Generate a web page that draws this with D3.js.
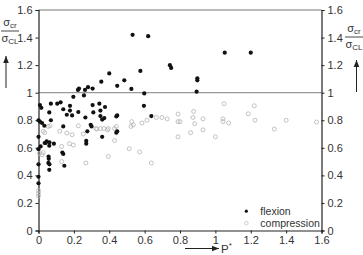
<!DOCTYPE html>
<html>
<head>
<meta charset="utf-8">
<script src="https://cdn.jsdelivr.net/npm/d3@7"></script>
<style>
  body { margin: 0; background: #fff; }
  text { font-family: 'Liberation Sans', Arial, sans-serif; fill: #333; }
</style>
</head>
<body>
<div id="chart"></div>
<script>
// P* vs sigma_cr / sigma_CL
const flexion = [
  [0.40, 1.14], [0.355, 1.08], [0.485, 1.09], [0.445, 1.05], [0.28, 1.04], [0.306, 1.03],
  [0.229, 1.03], [0.223, 1.02], [0.263, 1.02], [0.197, 0.97], [0.257, 0.98], [0.008, 0.91],
  [0.016, 0.89], [0.07, 0.92], [0.106, 0.92], [0.125, 0.93], [0.14, 0.88], [0.178, 0.905],
  [0.178, 0.87], [0.16, 0.84], [0.19, 0.835], [0.225, 0.86], [0.061, 0.857], [0.265, 0.82],
  [0.306, 0.91], [0.344, 0.92], [0.376, 0.896], [0.31, 0.857], [0.35, 0.87], [0.35, 0.83],
  [0.372, 0.816], [0.36, 0.805], [0.445, 0.835], [0.44, 0.828], [0.0, 0.80], [0.008, 0.79],
  [0.02, 0.78], [0.14, 0.755], [0.295, 0.767], [0.30, 0.755],
  [0.532, 1.42], [0.62, 1.41], [0.576, 1.158], [0.525, 1.027], [0.598, 0.995], [0.596, 0.905],
  [0.638, 0.83], [0.743, 1.20], [0.75, 1.18], [0.898, 1.104], [0.898, 1.09], [0.894, 1.007],
  [1.053, 1.29], [1.2, 1.29],
  [0.033, 0.76], [0.07, 0.80], [0.0, 0.68], [0.046, 0.646], [0.04, 0.635], [0.062, 0.64],
  [0.035, 0.635], [0.087, 0.63], [0.061, 0.615], [0.012, 0.61], [0.057, 0.537], [0.058, 0.52],
  [0.056, 0.49], [0.062, 0.48], [0.061, 0.44], [0.0, 0.48], [0.0, 0.39], [0.0, 0.343],
  [0.0, 0.59], [0.135, 0.566], [0.14, 0.555], [0.146, 0.47], [0.27, 0.65], [0.27, 0.63],
  [0.276, 0.72], [0.36, 0.68], [0.44, 0.71], [0.445, 0.72]
]

const compression = [
  [0.585, 0.78], [0.613, 0.80], [0.666, 0.82], [0.698, 0.82], [0.728, 0.81], [0.789, 0.845],
  [0.789, 0.79], [0.80, 0.79], [0.877, 0.864], [0.873, 0.82], [0.883, 0.775], [0.93, 0.81],
  [0.93, 0.73], [0.86, 0.71], [0.789, 0.68], [1.0, 0.68], [1.049, 0.92], [1.043, 0.81],
  [1.043, 0.79], [1.075, 0.78], [0.572, 0.57], [0.638, 0.49], [1.22, 0.905], [1.186, 0.847],
  [1.224, 0.80], [1.40, 0.80], [1.333, 0.736], [1.572, 0.787], [0.527, 0.79], [0.536, 0.767],
  [0.513, 0.593], [0.523, 0.755], [0.44, 0.755], [0.395, 0.74], [0.325, 0.74], [0.35, 0.74],
  [0.37, 0.74], [0.055, 0.755], [0.027, 0.72], [0.035, 0.71], [0.005, 0.56], [0.027, 0.566],
  [0.02, 0.55], [0.12, 0.72], [0.16, 0.707], [0.19, 0.695], [0.175, 0.63], [0.197, 0.62],
  [0.131, 0.61], [0.131, 0.50], [0.225, 0.76], [0.253, 0.70], [0.268, 0.49], [0.33, 0.736],
  [0.39, 0.73], [0.43, 0.74], [0.395, 0.537], [0.43, 0.653], [0.0, 0.25], [0.0, 0.29],
  [0.065, 0.76], [0.0, 0.27]
]

const xTicks = [0, 0.2, 0.4, 0.6, 0.8, 1, 1.2, 1.4, 1.6]
const yTicks = [0, 0.2, 0.4, 0.6, 0.8, 1, 1.2, 1.4, 1.6]
const legendLabels = ['flexion', 'compression']

const W = 363, H = 255
const margin = { top: 10, right: 41.5, bottom: 24.5, left: 38.5 }
const width = W - margin.left - margin.right
const height = H - margin.top - margin.bottom

const svg = d3.select('#chart').append('svg')
  .attr('width', W)
  .attr('height', H)

svg.append('defs').append('marker')
  .attr('id', 'arr')
  .attr('viewBox', '0 0 10 10')
  .attr('refX', 10).attr('refY', 5)
  .attr('markerWidth', 7).attr('markerHeight', 7)
  .attr('markerUnits', 'userSpaceOnUse')
  .attr('orient', 'auto')
  .append('path')
  .attr('d', 'M0,1 L10,5 L0,9 Z')
  .attr('fill', '#222')

const g = svg.append('g')
  .attr('transform', `translate(${margin.left},${margin.top})`)

const x = d3.scaleLinear().domain([0, 1.6]).range([0, width])
const y = d3.scaleLinear().domain([0, 1.6]).range([height, 0])

const fmt = d => (d === 0 || d === 1) ? d3.format('d')(d) : d3.format('.1f')(d)

function styleAxis (sel) {
  sel.select('.domain').attr('stroke', '#222').attr('stroke-width', 1.2)
  sel.selectAll('.tick line').attr('stroke', '#222')
  sel.selectAll('.tick text')
    .style('font-size', '11px')
    .style('font-family', "'Liberation Sans', Arial, sans-serif")
    .attr('fill', '#333')
}

// top border and reference line at 1
g.append('line')
  .attr('x1', 0).attr('x2', width)
  .attr('y1', y(1.6)).attr('y2', y(1.6))
  .attr('stroke', '#777').attr('stroke-width', 1.2)

g.append('line')
  .attr('x1', 0).attr('x2', width)
  .attr('y1', y(1)).attr('y2', y(1))
  .attr('stroke', '#999').attr('stroke-width', 1.2)

g.append('g')
  .attr('transform', `translate(0,${height})`)
  .call(d3.axisBottom(x).tickValues(xTicks).tickFormat(fmt).tickSizeOuter(0).tickSize(3).tickPadding(3))
  .call(styleAxis)

g.append('g')
  .call(d3.axisLeft(y).tickValues(yTicks).tickFormat(fmt).tickSizeOuter(0).tickSize(3).tickPadding(3))
  .call(styleAxis)

g.append('g')
  .attr('transform', `translate(${width},0)`)
  .call(d3.axisRight(y).tickValues(yTicks).tickFormat(fmt).tickSizeOuter(0).tickSize(3).tickPadding(3))
  .call(styleAxis)

// compression points (open grey circles)
g.append('g').selectAll('circle')
  .data(compression)
  .enter().append('circle')
  .attr('cx', d => x(d[0]))
  .attr('cy', d => y(d[1]))
  .attr('r', 2)
  .attr('fill', 'none')
  .attr('stroke', '#b4b4b4')
  .attr('stroke-width', 0.8)

// flexion points (black dots)
g.append('g').selectAll('circle')
  .data(flexion)
  .enter().append('circle')
  .attr('cx', d => x(d[0]))
  .attr('cy', d => y(d[1]))
  .attr('r', 2.1)
  .attr('fill', '#111')

// legend
const lg = g.append('g').attr('transform', `translate(${x(1.175)},${y(0.14)})`)
legendLabels.forEach((lab, i) => {
  const row = lg.append('g').attr('transform', `translate(0,${i * 12})`)
  if (i === 0) {
    row.append('circle').attr('r', 1.6).attr('fill', '#111')
  } else {
    row.append('circle').attr('r', 1.8).attr('fill', 'none').attr('stroke', '#c4c4c4').attr('stroke-width', 0.8)
  }
  row.append('text')
    .attr('x', 14).attr('y', 4)
    .style('font-size', '10.5px')
    .text(lab)
})

// y titles (fraction with arrow), left and right
function yTitle (cx, top, arrowX, arrowY1, arrowY2) {
  const t = svg.append('g')
  t.append('text')
    .attr('x', cx).attr('y', top)
    .attr('text-anchor', 'middle')
    .style('font-size', '11px')
    .html('σ<tspan dy="2" font-size="8">cr</tspan>')
  t.append('line')
    .attr('x1', cx - 9).attr('x2', cx + 9)
    .attr('y1', top + 5).attr('y2', top + 5)
    .attr('stroke', '#333').attr('stroke-width', 0.9)
  t.append('text')
    .attr('x', cx).attr('y', top + 16)
    .attr('text-anchor', 'middle')
    .style('font-size', '11px')
    .html('σ<tspan dy="2" font-size="8">CL</tspan>')
  svg.append('line')
    .attr('x1', arrowX).attr('x2', arrowX)
    .attr('y1', arrowY1).attr('y2', arrowY2)
    .attr('stroke', '#222').attr('stroke-width', 1)
    .attr('marker-end', 'url(#arr)')
}
yTitle(10, 26, 6, 88, 56)
yTitle(354, 32, 356.5, 92, 60)

// x title
svg.append('line')
  .attr('x1', 185).attr('x2', 219)
  .attr('y1', 248.5).attr('y2', 248.5)
  .attr('stroke', '#222').attr('stroke-width', 1)
  .attr('marker-end', 'url(#arr)')

svg.append('text')
  .attr('x', 221).attr('y', 253)
  .style('font-size', '11.5px')
  .html('P<tspan dy="-5" font-size="8">*</tspan>')
</script>
</body>
</html>
